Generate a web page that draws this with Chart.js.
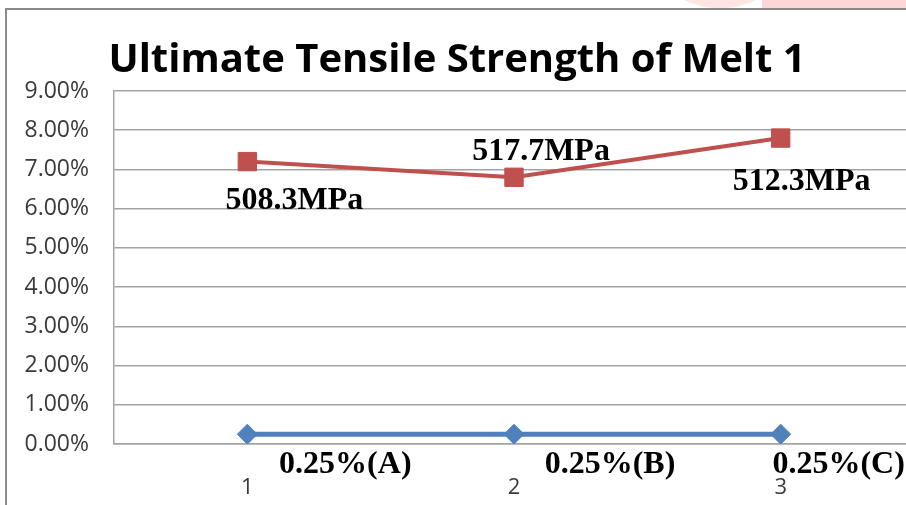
<!DOCTYPE html>
<html>
<head>
<meta charset="utf-8">
<title>Ultimate Tensile Strength of Melt 1</title>
<script src="https://cdn.jsdelivr.net/npm/chart.js@4.4.0/dist/chart.umd.min.js"></script>
<style>
    html, body {
        margin: 0;
        padding: 0;
        width: 906px;
        height: 505px;
        overflow: hidden;
        background: #ffffff;
    }
    .mark-a {
        position: absolute;
        left: 762px;
        top: 0;
        width: 150px;
        height: 8px;
        background: #ffd6d6;
    }
    .mark-b {
        position: absolute;
        left: 675px;
        top: -34px;
        width: 90px;
        height: 42px;
        border-radius: 50%;
        background: #ffe4e4;
    }
    .frame {
        position: absolute;
        left: 5px;
        top: 8px;
        width: 1000px;
        height: 600px;
        border-left: 2px solid #8a8a8a;
        border-top: 2px solid #8a8a8a;
        background: #ffffff;
    }
    #chart {
        position: absolute;
        left: 0;
        top: 0;
    }
</style>
</head>
<body>
<div class="mark-b"></div>
<div class="mark-a"></div>
<div class="frame"></div>
<canvas id="chart" width="916" height="505"></canvas>

<script>
// values (percent)
const categories = ['1', '2', '3'];
const strengthSeries = [7.2, 6.8, 7.8];
const additionSeries = [0.25, 0.25, 0.25];
const strengthLabels = ['508.3MPa', '517.7MPa', '512.3MPa'];
const additionLabels = ['0.25%(A)', '0.25%(B)', '0.25%(C)'];
const yTicks = [0, 1, 2, 3, 4, 5, 6, 7, 8, 9];

const RED = '#c0504d';
const BLUE = '#4f81bd';
const GRID = '#a3a3a3';

// draws the text boxes that sit beside each point, as in the spreadsheet
const pointTextPlugin = {
    id: 'pointText',
    afterDatasetsDraw(chart, args, opts) {
        const ctx = chart.ctx;
        ctx.save();
        ctx.font = 'bold 32px "Liberation Serif", "DejaVu Serif", serif';
        ctx.fillStyle = '#000000';
        ctx.textAlign = 'center';
        ctx.textBaseline = 'middle';
        chart.data.datasets.forEach((ds, di) => {
            const meta = chart.getDatasetMeta(di);
            const shift = opts.shifts[di];
            meta.data.forEach((pt, i) => {
                ctx.fillText(ds.pointText[i], pt.x + shift[i][0], pt.y + shift[i][1]);
            });
        });
        ctx.restore();
    }
};

new Chart(document.getElementById('chart'), {
    type: 'line',
    data: {
        labels: categories,
        datasets: [{
            label: 'Addition',
            data: additionSeries,
            pointText: additionLabels,
            borderColor: BLUE,
            backgroundColor: BLUE,
            borderWidth: 5,
            pointStyle: 'rectRot',
            pointRadius: 10,
            pointBorderWidth: 1,
            tension: 0
        }, {
            label: 'UTS',
            data: strengthSeries,
            pointText: strengthLabels,
            borderColor: RED,
            backgroundColor: RED,
            borderWidth: 4,
            pointStyle: 'rect',
            pointRadius: 13,
            pointBorderWidth: 1,
            tension: 0
        }]
    },
    options: {
        responsive: false,
        animation: false,
        layout: {
            autoPadding: false,
            padding: { top: 37, left: 0, right: 2, bottom: 0 }
        },
        plugins: {
            legend: { display: false },
            tooltip: { enabled: false },
            title: {
                display: true,
                text: 'Ultimate Tensile Strength of Melt 1',
                color: '#000000',
                font: { family: '"Open Sans", sans-serif', size: 40, weight: 'bold', lineHeight: 1.2 },
                padding: { top: 0, bottom: 6 }
            },
            pointText: {
                shifts: [
                    [[98, 31], [96, 31], [58, 31]],
                    [[47, 39], [27, -26], [21, 44]]
                ]
            }
        },
        scales: {
            x: {
                offset: true,
                afterFit(scale) {
                    scale.height = 61;
                },
                grid: { display: false, drawTicks: false },
                border: { display: true, color: GRID, width: 1.5 },
                ticks: {
                    color: '#3a3a3a',
                    padding: 31,
                    font: { family: '"Open Sans", sans-serif', size: 22 }
                }
            },
            y: {
                min: 0,
                max: 9,
                afterBuildTicks(scale) {
                    scale.ticks = yTicks.map(v => ({ value: v }));
                },
                afterFit(scale) {
                    scale.width = 114;
                },
                grid: { color: GRID, lineWidth: 1.5, drawTicks: false },
                border: { display: true, color: GRID, width: 1.5 },
                ticks: {
                    color: '#3a3a3a',
                    padding: 25,
                    font: { family: '"Open Sans", sans-serif', size: 23 },
                    callback: v => v.toFixed(2) + '%'
                }
            }
        }
    },
    plugins: [pointTextPlugin]
});
</script>
</body>
</html>
